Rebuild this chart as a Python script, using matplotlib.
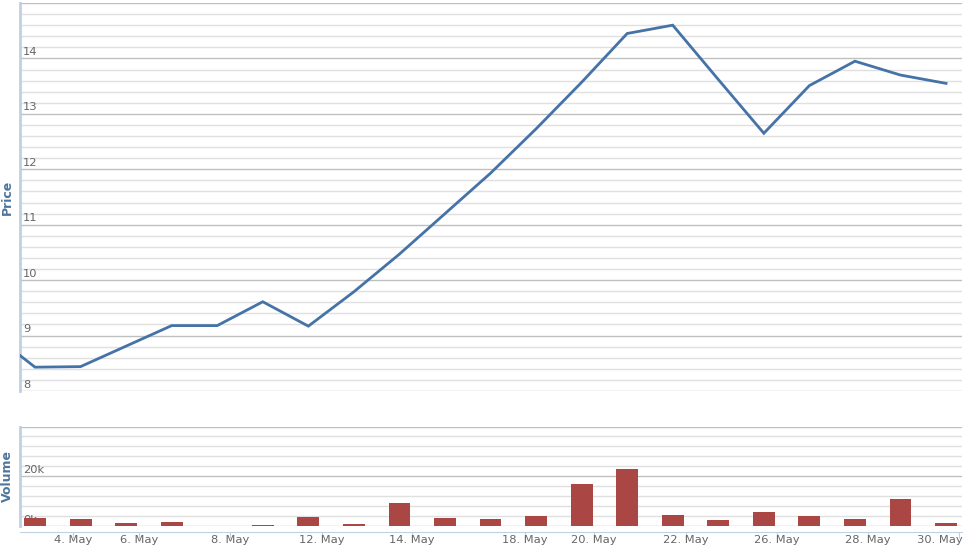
import numpy as np
import matplotlib
matplotlib.use("Agg")
import matplotlib.pyplot as plt
import matplotlib.transforms as mtrans
from matplotlib.ticker import MultipleLocator

# 株価と出来高 (ordinal axis: one slot per trading point)
# first price point lies just left of the visible range
price = [9.07, 8.43, 8.44, 8.81, 9.18, 9.18, 9.61, 9.17, 9.79, 10.47, 11.20,
         11.93, 12.73, 13.57, 14.45, 14.60, 13.62, 12.65, 13.51, 13.95, 13.70, 13.55]
volume = [3200, 2800, 1200, 1600, 0, 400, 3600, 800, 9200, 3200, 2800,
          4000, 16800, 22800, 4400, 2400, 5600, 4000, 2800, 10800, 1200]
tick_labels = ["4. May", "6. May", "8. May", "12. May", "14. May", "18. May",
               "20. May", "22. May", "26. May", "28. May", "30. May"]
tick_pos = [0.83, 2.28, 4.28, 6.30, 8.28, 10.76, 12.27, 14.29, 16.29, 18.29, 20.29]

price_x = np.arange(-1, len(price) - 1)
vol_x = np.arange(len(volume))

W, H = 965, 549
fig = plt.figure(figsize=(W / 100, H / 100), dpi=100)
ax1 = fig.add_axes([20 / W, 1 - 391 / H, 942 / W, 388 / H])
ax2 = fig.add_axes([20 / W, 1 - 526 / H, 942 / W, 99.5 / H])

txt_col = "#666666"
lab_col = "#4d759e"

for ax in (ax1, ax2):
    for s in ("top", "right", "bottom"):
        ax.spines[s].set_visible(False)
    ax.spines["left"].set_color("#C0D0E0")
    ax.spines["left"].set_linewidth(2)
    ax.set_xlim(-0.33, 20.35)
    ax.set_axisbelow(True)
    ax.yaxis.grid(True, which="major", color="#C0C0C0", lw=1)
    ax.yaxis.grid(True, which="minor", color="#E0E0E0", lw=1)
    ax.tick_params(axis="y", which="both", left=False, labelleft=False)

# price
ax1.plot(price_x, price, color="#4572A7", lw=2, solid_joinstyle="miter", zorder=3)
ax1.set_ylim(8, 15)
ax1.yaxis.set_major_locator(MultipleLocator(1))
ax1.yaxis.set_minor_locator(MultipleLocator(0.2))
ax1.tick_params(axis="x", bottom=False, labelbottom=False)
for v in range(8, 15):
    ax1.annotate(str(v), xy=(0, v), xycoords=("axes fraction", "data"),
                 xytext=(2, 1), textcoords="offset points",
                 fontsize=8.25, color=txt_col, va="bottom", ha="left")

# volume
ax2.bar(vol_x, volume, width=0.48, color="#AA4643", zorder=3)
ax2.set_ylim(0, 40000)
ax2.yaxis.set_major_locator(MultipleLocator(20000))
ax2.yaxis.set_minor_locator(MultipleLocator(4000))
for v, s in [(0, "0k"), (20000, "20k")]:
    ax2.annotate(s, xy=(0, v), xycoords=("axes fraction", "data"),
                 xytext=(2, 1), textcoords="offset points",
                 fontsize=8.25, color=txt_col, va="bottom", ha="left", zorder=1)
ax2.spines["bottom"].set_visible(True)
ax2.spines["bottom"].set_position(("outward", 4))
ax2.spines["bottom"].set_color("#C0D0E0")
ax2.set_xticks(tick_pos)
ax2.set_xticklabels(tick_labels)
ax2.tick_params(axis="x", colors="#C0D0E0", length=4, pad=-1.5, labelsize=8.25,
                labelcolor=txt_col)
# last label is pushed inside the figure, as in the original
last = ax2.get_xticklabels()[-1]
last.set_ha("right")
last.set_transform(last.get_transform() +
                   mtrans.ScaledTranslation(3 / 100, 0, fig.dpi_scale_trans))

fig.text(7 / W, 1 - 197 / H, "Price", rotation=90, ha="center", va="center",
         fontsize=9, fontweight="bold", color=lab_col)
fig.text(7 / W, 1 - 476 / H, "Volume", rotation=90, ha="center", va="center",
         fontsize=9, fontweight="bold", color=lab_col)

fig.savefig("out.png", dpi=100)
